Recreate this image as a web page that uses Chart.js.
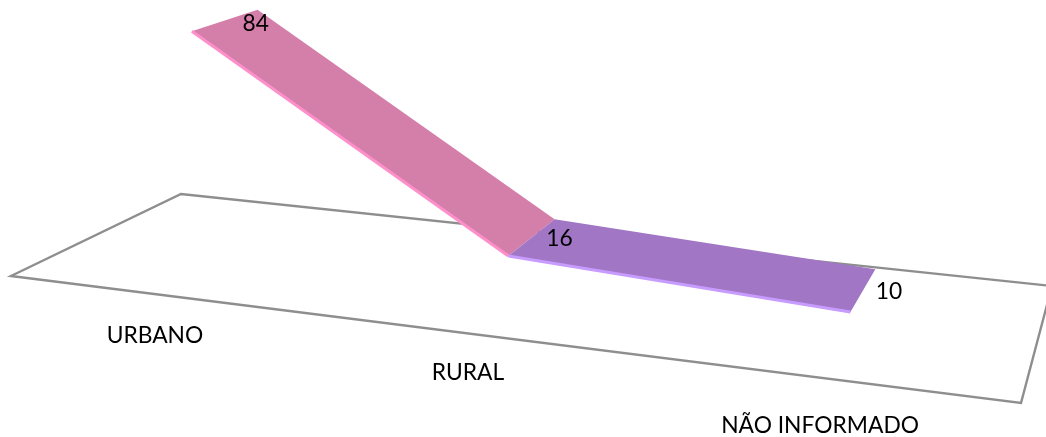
<!DOCTYPE html>
<html>
<head>
<meta charset="utf-8">
<style>
  html, body { margin: 0; padding: 0; background: #fff; }
  canvas { display: block; }
</style>
<script src="https://cdn.jsdelivr.net/npm/chart.js@4"></script>
</head>
<body>
<canvas id="chart" width="1046" height="437"></canvas>
<script>
const categories = ['URBANO', 'RURAL', 'NÃO INFORMADO'];
const values = [84, 16, 10];

const pink = '#D47FA9', pinkEdge = '#FF8FCB';
const purple = '#A076C5', purpleEdge = '#C79BFF';
const labelFont = '22.8px Lato';
const categoryNudge = [[0, 42], [-1.5, 39], [-5, 47]];
const valueNudge = [[31, 3], [28, 1.5], [26, 1.5]];

// Floor corners on screen, clockwise from the front left
const floor = [[11, 276], [1021, 403], [1052, 286], [181, 194]];
const ribbonFront = 0.31, ribbonBack = 0.72;
const ribbonStretch = 1.006;

// Perspective matrix built from the floor corners
const [[x0, y0], [x1, y1], [x2, y2], [x3, y3]] = floor;
const dx1 = x1 - x2, dx2 = x3 - x2, sx = x0 - x1 + x2 - x3;
const dy1 = y1 - y2, dy2 = y3 - y2, sy = y0 - y1 + y2 - y3;
const den = dx1 * dy2 - dx2 * dy1;
const g = (sx * dy2 - dx2 * sy) / den;
const h = (dx1 * sy - sx * dy1) / den;
const a = x1 - x0 + g * x1, b = x3 - x0 + h * x3;
const d = y1 - y0 + g * y1, e = y3 - y0 + h * y3;

// s: along the categories, depth: front to back, lift: share of the value axis
function project(s, depth, lift) {
    const w = g * s + h * depth + 1 - 0.05 * lift;
    return {
        x: (a * s + b * depth + x0 - 27 * lift) / w,
        y: (d * s + e * depth + y0 - 287 * lift) / w
    };
}

function polygon(ctx, pts, color) {
    ctx.beginPath();
    pts.forEach((p, i) => i ? ctx.lineTo(p.x, p.y) : ctx.moveTo(p.x, p.y));
    ctx.closePath();
    ctx.fillStyle = color;
    ctx.fill();
}

const perspective = {
    id: 'perspective',
    // Move the points the scales placed onto the tilted floor
    afterDatasetsUpdate(chart) {
        const area = chart.chartArea;
        chart.data.datasets.forEach((ds, i) => {
            chart.getDatasetMeta(i).data.forEach(pt => {
                const s = (pt.x - area.left) / area.width;
                const lift = (area.bottom - pt.y) / area.height;
                const p = project(0.5 + (s - 0.5) * ribbonStretch, ds.depth, lift);
                pt.x = p.x;
                pt.y = p.y;
            });
        });
    },
    beforeDatasetsDraw(chart) {
        const ctx = chart.ctx;
        const corners = [[0, 0], [1, 0], [1, 1], [0, 1]].map(c => project(c[0], c[1], 0));
        ctx.save();
        ctx.beginPath();
        corners.forEach((p, i) => i ? ctx.lineTo(p.x, p.y) : ctx.moveTo(p.x, p.y));
        ctx.closePath();
        ctx.lineWidth = 2.4;
        ctx.lineJoin = 'miter';
        ctx.strokeStyle = '#8E8E8E';
        ctx.stroke();

        const front = chart.getDatasetMeta(0).data;
        const back = chart.getDatasetMeta(1).data;
        polygon(ctx, [front[0], front[1], back[1], back[0]], pink);
        polygon(ctx, [front[1], front[2], back[2], back[1]], purple);
        ctx.restore();
    },
    afterDatasetsDraw(chart) {
        const ctx = chart.ctx;
        const front = chart.getDatasetMeta(0).data;
        const back = chart.getDatasetMeta(1).data;
        const xs = chart.scales.x;
        const area = chart.chartArea;
        ctx.save();
        ctx.font = labelFont;
        ctx.fillStyle = '#000';
        ctx.textAlign = 'center';
        ctx.textBaseline = 'middle';
        values.forEach((v, i) => {
            ctx.fillText(v, (front[i].x + back[i].x) / 2 + valueNudge[i][0], (front[i].y + back[i].y) / 2 + valueNudge[i][1]);
        });
        categories.forEach((label, i) => {
            const s = (xs.getPixelForValue(i) - area.left) / area.width;
            const p = project(s, 0, 0);
            ctx.fillText(label, p.x + categoryNudge[i][0], p.y + categoryNudge[i][1]);
        });
        ctx.restore();
    }
};

new Chart(document.getElementById('chart'), {
    type: 'line',
    plugins: [perspective],
    data: {
        labels: categories,
        datasets: [
            {
                label: 'front',
                data: values,
                depth: ribbonFront,
                borderWidth: 3,
                pointRadius: 0,
                segment: { borderColor: c => c.p0DataIndex === 0 ? pinkEdge : purpleEdge }
            },
            {
                label: 'back',
                data: values,
                depth: ribbonBack,
                showLine: false,
                pointRadius: 0
            }
        ]
    },
    options: {
        responsive: false,
        animation: false,
        clip: false,
        layout: { padding: 0 },
        plugins: { legend: { display: false }, tooltip: { enabled: false } },
        scales: {
            x: { display: false, offset: true },
            y: { display: false, min: 0.5, max: 100.5 }
        }
    }
});
</script>
</body>
</html>
